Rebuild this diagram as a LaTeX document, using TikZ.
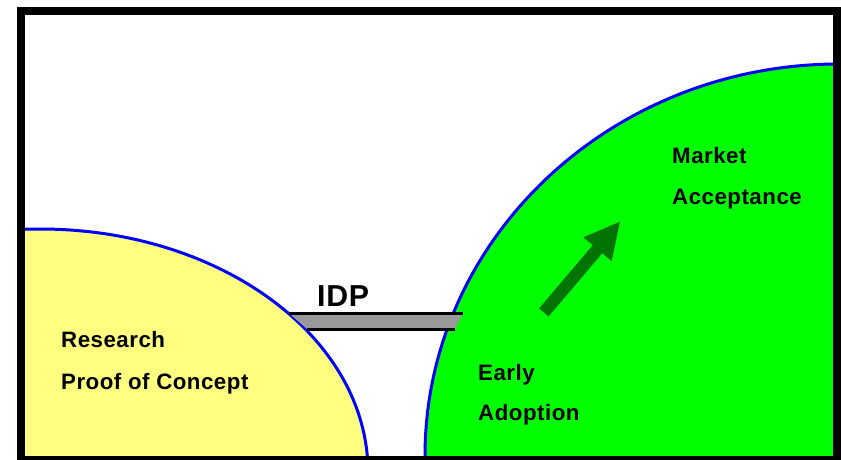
\documentclass[tikz,border=0pt]{standalone}
\usepackage{fontspec}
\newfontfamily\lblfont{Liberation Sans}[LetterSpace=2.2]
\definecolor{ylw}{RGB}{255,255,128}
\definecolor{grn}{RGB}{0,255,0}
\definecolor{darkgrn}{RGB}{0,115,0}
\definecolor{bargray}{RGB}{153,153,153}
\begin{document}
\begin{tikzpicture}[x=1pt,y=-1pt,
  lbl/.style={font=\lblfont\bfseries\fontsize{22.3}{26}\selectfont, anchor=base west, inner sep=0pt, text=black},
  bigl/.style={font=\lblfont\bfseries\fontsize{30.3}{34}\selectfont, anchor=base west, inner sep=0pt, text=black},
  blob/.style={draw=blue, line width=3pt},
  barline/.style={draw=black, line width=3pt}]
\useasboundingbox (0,0) rectangle (841,459);
\begin{scope}
  \clip (21,11) rectangle (837,460);
  \fill[white] (21,11) rectangle (837,460);
  \filldraw[blob, fill=ylw] (40,472) ellipse [x radius=328, y radius=243];
  \filldraw[blob, fill=grn] (839,456) ellipse [x radius=414, y radius=392];
\end{scope}
% IDP bar
\coordinate (btl) at (289,313.3);
\coordinate (btr) at (463,313.3);
\coordinate (bbr) at (455,329);
\coordinate (bbl) at (307,329);
\fill[bargray] (btl) -- (btr) -- (bbr) -- (bbl) -- cycle;
\draw[barline] (btl) -- (btr);
\draw[barline] (bbl) -- (bbr);
% arrow
\fill[darkgrn] (539.05,308.51) -- (592.75,245.2) -- (583.3,237.3) -- (620,221.7)
  -- (611.7,261.1) -- (602.25,253.2) -- (548.55,316.49) -- cycle;
% labels
\node[bigl] (idp) at (317,306.7) {IDP};
\node[lbl] (research) at (61,347.7) {Research};
\node[lbl] (proof) at (61,389) {Proof of Concept};
\node[lbl] (market) at (672,163.3) {Market};
\node[lbl] (accept) at (672,204.3) {Acceptance};
\node[lbl] (early) at (478,380) {Early};
\node[lbl] (adopt) at (478,420) {Adoption};
% frame
\draw[line width=8pt] (21,11) rectangle (837,460);
\end{tikzpicture}
\end{document}
